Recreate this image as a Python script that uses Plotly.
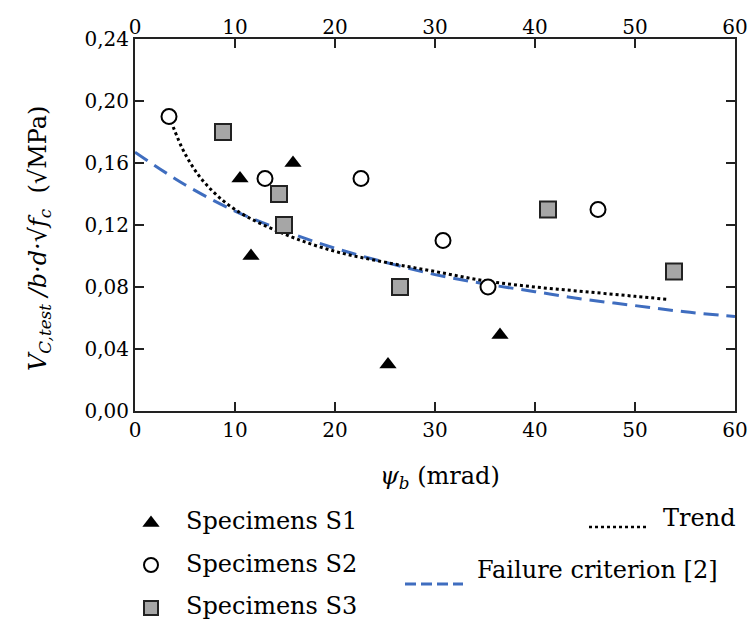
import plotly.graph_objects as go

# ---- data ----
s1_x = [10.5, 11.6, 15.8, 25.3, 36.5]
s1_y = [0.150, 0.100, 0.160, 0.030, 0.049]
s2_x = [3.4, 13.0, 22.6, 30.8, 35.3, 46.3]
s2_y = [0.190, 0.150, 0.150, 0.110, 0.080, 0.130]
s3_x = [8.8, 14.4, 14.9, 26.5, 41.3, 53.9]
s3_y = [0.180, 0.140, 0.120, 0.080, 0.130, 0.090]
trend_x = [3.6, 5, 7, 10, 15, 20, 25, 30, 35, 40, 45, 50, 53.3]
trend_y = [0.187, 0.166, 0.147, 0.130, 0.114, 0.103, 0.096, 0.090, 0.084, 0.080, 0.077, 0.074, 0.072]
crit_x = [0, 5, 10, 15, 20, 25, 30, 35, 40, 45, 50, 55, 60]
crit_y = [0.167, 0.146, 0.129, 0.116, 0.105, 0.096, 0.088, 0.082, 0.077, 0.072, 0.068, 0.064, 0.061]
x_ticks = [0, 10, 20, 30, 40, 50, 60]
y_ticks = [0.00, 0.04, 0.08, 0.12, 0.16, 0.20, 0.24]
y_ticktext = ["0,00", "0,04", "0,08", "0,12", "0,16", "0,20", "0,24"]
legend_names = ["Specimens S1", "Specimens S2", "Specimens S3", "Trend", "Failure criterion [2]"]

W, H = 750, 627
X0, X1, Y0, Y1 = 135, 735, 39, 411
FONT = "DejaVu Serif"
BLUE = "#3f6dbf"
GRAY = "#a6a6a6"
DARK = "#222222"
TXT = 24

fig = go.Figure()

fig.add_trace(go.Scatter(x=crit_x, y=crit_y, mode="lines", line=dict(color=BLUE, width=3, dash="15px,8px", shape="spline"), xaxis="x", yaxis="y", showlegend=False))
fig.add_trace(go.Scatter(x=trend_x, y=trend_y, mode="lines", line=dict(color="black", width=3, dash="dot", shape="spline"), xaxis="x", yaxis="y", showlegend=False))
fig.add_trace(go.Scatter(x=s1_x, y=s1_y, mode="markers", marker=dict(symbol="triangle-up", size=15, color="black"), showlegend=False))
fig.add_trace(go.Scatter(x=s2_x, y=s2_y, mode="markers", marker=dict(symbol="circle", size=15, color="white", line=dict(color="black", width=2)), showlegend=False))
fig.add_trace(go.Scatter(x=s3_x, y=s3_y, mode="markers", marker=dict(symbol="square", size=16, color=GRAY, line=dict(color=DARK, width=2)), showlegend=False))
# empty trace on top axis so it renders
fig.add_trace(go.Scatter(x=[None], y=[None], xaxis="x2", yaxis="y", showlegend=False))

# legend keys on a full-figure pixel axis
fig.add_trace(go.Scatter(x=[151], y=[523], mode="markers", marker=dict(symbol="triangle-up", size=15, color="black"), xaxis="x3", yaxis="y3", showlegend=False))
fig.add_trace(go.Scatter(x=[151], y=[565], mode="markers", marker=dict(symbol="circle", size=14, color="white", line=dict(color="black", width=2)), xaxis="x3", yaxis="y3", showlegend=False))
fig.add_trace(go.Scatter(x=[151], y=[608], mode="markers", marker=dict(symbol="square", size=14, color=GRAY, line=dict(color=DARK, width=2)), xaxis="x3", yaxis="y3", showlegend=False))
fig.add_trace(go.Scatter(x=[589, 648], y=[527, 527], mode="lines", line=dict(color="black", width=2.5, dash="dot"), xaxis="x3", yaxis="y3", showlegend=False))
fig.add_trace(go.Scatter(x=[405, 463], y=[584, 584], mode="lines", line=dict(color=BLUE, width=3, dash="11px,5px"), xaxis="x3", yaxis="y3", showlegend=False))

def A(text, x, y, xanchor="left", size=TXT, **kw):
    return dict(text=text, x=x, y=y, xref="x3", yref="y3", xanchor=xanchor, yanchor="middle", showarrow=False, font=dict(family=FONT, size=size, color="black"), **kw)

ann = [
    A(legend_names[0], 184, 521),
    A(legend_names[1], 184, 564),
    A(legend_names[2], 184, 606),
    A(legend_names[3], 738, 518, "right"),
    A(legend_names[4], 475, 570),
    A("<i>ψ</i><sub><i>b</i></sub> (mrad)", 440, 477, "center"),
    A("<i>V</i><sub><i>C,test</i></sub> <i>/b·d·√f</i><sub><i>c</i></sub>  (√MPa)", 39, 239, "center", size=24, textangle=-90),
]

axis_common = dict(showgrid=False, zeroline=False, linecolor=DARK, linewidth=2, ticks="inside", ticklen=9, tickwidth=2, tickcolor=DARK, tickfont=dict(family=FONT, size=20, color="black"), automargin=False)

fig.update_layout(
    width=W, height=H,
    margin=dict(l=0, r=0, t=0, b=0),
    paper_bgcolor="white", plot_bgcolor="rgba(0,0,0,0)",
    annotations=ann,
    xaxis=dict(domain=[X0 / W, X1 / W], range=[0, 60], tickvals=x_ticks, showline=True, mirror="ticks", anchor="y", **axis_common),
    xaxis2=dict(domain=[X0 / W, X1 / W], range=[0, 60], tickvals=x_ticks, side="top", overlaying="x", anchor="y", showline=False, showgrid=False, zeroline=False, ticks="", tickfont=dict(family=FONT, size=20, color="black"), automargin=False),
    yaxis=dict(domain=[1 - Y1 / H, 1 - Y0 / H], range=[0, 0.24], tickvals=y_ticks, ticktext=y_ticktext, showline=True, mirror="ticks", anchor="x", **axis_common),
    xaxis3=dict(domain=[0, 1], range=[0, W], visible=False, anchor="y3", fixedrange=True),
    yaxis3=dict(domain=[0, 1], range=[H, 0], visible=False, anchor="x3", fixedrange=True),
    showlegend=False,
)

fig.write_html("out.html")
